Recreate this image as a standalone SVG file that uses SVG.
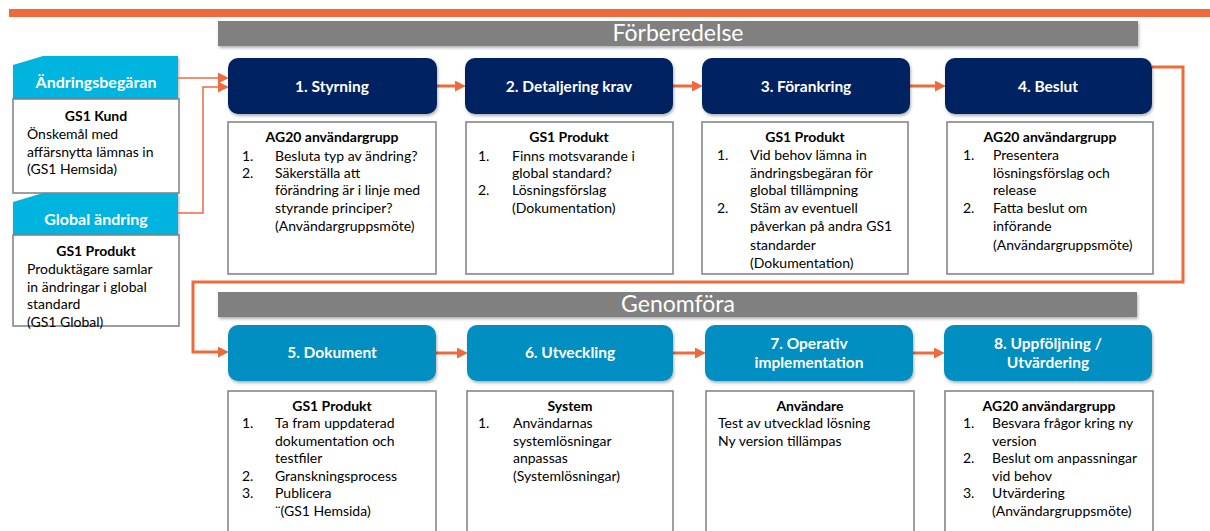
<svg xmlns="http://www.w3.org/2000/svg" width="1210" height="531" viewBox="0 0 1210 531">
<style>
.t{font-family:Lato,"Liberation Sans",sans-serif;font-size:14px;fill:#000}
.b{font-weight:bold}
.m{text-anchor:middle}
.nl{font-family:Lato,"Liberation Sans",sans-serif;font-size:15.5px;font-weight:bold;fill:#fff;text-anchor:middle}
.hl{font-family:Lato,"Liberation Sans",sans-serif;font-size:16px;font-weight:bold;fill:#fff;text-anchor:middle}
.hd{font-family:Lato,"Liberation Sans",sans-serif;font-size:23px;fill:#fff;text-anchor:middle}
.box{fill:#fff;stroke:#7f7f7f;stroke-width:1.5}
.n1{fill:#002060}
.n2{fill:#008fc0}
.cy{fill:#00b4e0}
.bar{fill:#808080}
.c{fill:none;stroke:#ee6a3c;stroke-width:3}
.ct{fill:none;stroke:#ee6a3c;stroke-width:1.5}
</style>
<defs>
<marker id="ah" markerUnits="userSpaceOnUse" markerWidth="11" markerHeight="11" refX="2" refY="5" orient="auto" viewBox="0 0 10 10">
<path d="M0,0 L10,5 L0,10 z" fill="#ee6a3c"/>
</marker>
<filter id="sh" x="-5%" y="-10%" width="110%" height="130%">
<feDropShadow dx="1" dy="2" stdDeviation="1.5" flood-color="#000" flood-opacity="0.3"/>
</filter>
</defs>
<rect x="9" y="9" width="1201" height="8" fill="#ee6a3c"/>

<g id="bar-forberedelse">
<rect class="bar" x="218" y="21" width="920" height="25" filter="url(#sh)"/>
<text class="hd" x="678" y="41">Förberedelse</text>
</g>
<g id="bar-genomfora">
<rect class="bar" x="218" y="292" width="919" height="25" filter="url(#sh)"/>
<text class="hd" x="678" y="312">Genomföra</text>
</g>

<g id="andringsbegaran">
<path class="cy" d="M13,65 L43,56 H178 V99 H13 z" filter="url(#sh)"/>
<text class="hl" x="96" y="88">Ändringsbegäran</text>
<rect class="box" x="13" y="99" width="166" height="94"/>
<text class="t b m" x="96" y="121">GS1 Kund</text>
<text class="t" x="27" y="139">Önskemål med</text>
<text class="t" x="27" y="157">affärsnytta lämnas in</text>
<text class="t" x="27" y="174">(GS1 Hemsida)</text>
</g>

<g id="global-andring">
<path class="cy" d="M13,202 L43,193 H178 V235 H13 z" filter="url(#sh)"/>
<text class="hl" x="96" y="225">Global ändring</text>
<rect class="box" x="13" y="235" width="166" height="91"/>
<text class="t b m" x="96" y="256">GS1 Produkt</text>
<text class="t" x="27" y="274">Produktägare samlar</text>
<text class="t" x="27" y="292">in ändringar i global</text>
<text class="t" x="27" y="309">standard</text>
<text class="t" x="27" y="327">(GS1 Global)</text>
</g>

<g id="connectors">
<path class="ct" d="M178,78 H220" marker-end="url(#ah)"/>
<path class="ct" d="M178,213 H203 V87 H220" marker-end="url(#ah)"/>
<path class="c" d="M437,86 H457" marker-end="url(#ah)"/>
<path class="c" d="M673,86 H694" marker-end="url(#ah)"/>
<path class="c" d="M910,86 H937" marker-end="url(#ah)"/>
<path class="c" d="M1152,67 H1183 V282 H193 V352 H220" marker-end="url(#ah)"/>
<path class="c" d="M436,353 H459" marker-end="url(#ah)"/>
<path class="c" d="M673,353 H697" marker-end="url(#ah)"/>
<path class="c" d="M913,353 H936" marker-end="url(#ah)"/>
</g>

<g id="node1">
<rect class="n1" x="228" y="58" width="209" height="56" rx="10" filter="url(#sh)"/>
<text class="nl" x="332" y="92">1. Styrning</text>
<rect class="box" x="228" y="122" width="208" height="152"/>
<text class="t b m" x="332" y="142">AG20 användargrupp</text>
<text class="t" x="242" y="161">1.</text><text class="t" x="275" y="161">Besluta typ av ändring?</text>
<text class="t" x="242" y="178">2.</text><text class="t" x="275" y="178">Säkerställa att</text>
<text class="t" x="275" y="195">förändring är i linje med</text>
<text class="t" x="275" y="213">styrande principer?</text>
<text class="t" x="275" y="231">(Användargruppsmöte)</text>
</g>

<g id="node2">
<rect class="n1" x="465" y="58" width="208" height="56" rx="10" filter="url(#sh)"/>
<text class="nl" x="569" y="92">2. Detaljering krav</text>
<rect class="box" x="466" y="122" width="207" height="152"/>
<text class="t b m" x="569" y="142">GS1 Produkt</text>
<text class="t" x="478" y="161">1.</text><text class="t" x="512" y="161">Finns motsvarande i</text>
<text class="t" x="512" y="178">global standard?</text>
<text class="t" x="478" y="195">2.</text><text class="t" x="512" y="195">Lösningsförslag</text>
<text class="t" x="512" y="213">(Dokumentation)</text>
</g>

<g id="node3">
<rect class="n1" x="702" y="58" width="208" height="56" rx="10" filter="url(#sh)"/>
<text class="nl" x="806" y="92">3. Förankring</text>
<rect class="box" x="702" y="122" width="206" height="152"/>
<text class="t b m" x="805" y="142">GS1 Produkt</text>
<text class="t" x="717" y="160">1.</text><text class="t" x="750" y="160">Vid behov lämna in</text>
<text class="t" x="750" y="178">ändringsbegäran för</text>
<text class="t" x="750" y="195">global tillämpning</text>
<text class="t" x="717" y="213">2.</text><text class="t" x="750" y="213">Stäm av eventuell</text>
<text class="t" x="750" y="231">påverkan på andra GS1</text>
<text class="t" x="750" y="250">standarder</text>
<text class="t" x="750" y="268">(Dokumentation)</text>
</g>

<g id="node4">
<rect class="n1" x="945" y="58" width="207" height="56" rx="10" filter="url(#sh)"/>
<text class="nl" x="1048" y="92">4. Beslut</text>
<rect class="box" x="947" y="122" width="206" height="152"/>
<text class="t b m" x="1050" y="142">AG20 användargrupp</text>
<text class="t" x="963" y="160">1.</text><text class="t" x="993" y="160">Presentera</text>
<text class="t" x="993" y="178">lösningsförslag och</text>
<text class="t" x="993" y="195">release</text>
<text class="t" x="963" y="213">2.</text><text class="t" x="993" y="213">Fatta beslut om</text>
<text class="t" x="993" y="231">införande</text>
<text class="t" x="993" y="250">(Användargruppsmöte)</text>
</g>

<g id="node5">
<rect class="n2" x="228" y="325" width="208" height="56" rx="10" filter="url(#sh)"/>
<text class="nl" x="332" y="358">5. Dokument</text>
<rect class="box" x="228" y="391" width="208" height="145"/>
<text class="t b m" x="332" y="411">GS1 Produkt</text>
<text class="t" x="242" y="428">1.</text><text class="t" x="275" y="428">Ta fram uppdaterad</text>
<text class="t" x="275" y="446">dokumentation och</text>
<text class="t" x="275" y="463">testfiler</text>
<text class="t" x="242" y="481">2.</text><text class="t" x="275" y="481">Granskningsprocess</text>
<text class="t" x="242" y="498">3.</text><text class="t" x="275" y="498">Publicera</text>
<text class="t" x="275" y="516">¨(GS1 Hemsida)</text>
</g>

<g id="node6">
<rect class="n2" x="467" y="325" width="206" height="56" rx="10" filter="url(#sh)"/>
<text class="nl" x="570" y="358">6. Utveckling</text>
<rect class="box" x="467" y="391" width="206" height="145"/>
<text class="t b m" x="570" y="411">System</text>
<text class="t" x="478" y="428">1.</text><text class="t" x="513" y="428">Användarnas</text>
<text class="t" x="513" y="446">systemlösningar</text>
<text class="t" x="513" y="463">anpassas</text>
<text class="t" x="513" y="481">(Systemlösningar)</text>
</g>

<g id="node7">
<rect class="n2" x="705" y="325" width="208" height="56" rx="10" filter="url(#sh)"/>
<text class="nl" x="809" y="349">7. Operativ</text>
<text class="nl" x="809" y="368">implementation</text>
<rect class="box" x="706" y="391" width="208" height="145"/>
<text class="t b m" x="810" y="411">Användare</text>
<text class="t" x="718" y="428">Test av utvecklad lösning</text>
<text class="t" x="718" y="446">Ny version tillämpas</text>
</g>

<g id="node8">
<rect class="n2" x="944" y="325" width="208" height="56" rx="10" filter="url(#sh)"/>
<text class="nl" x="1048" y="349">8. Uppföljning /</text>
<text class="nl" x="1048" y="368">Utvärdering</text>
<rect class="box" x="945" y="391" width="208" height="145"/>
<text class="t b m" x="1049" y="411">AG20 användargrupp</text>
<text class="t" x="963" y="428">1.</text><text class="t" x="992" y="428">Besvara frågor kring ny</text>
<text class="t" x="992" y="446">version</text>
<text class="t" x="963" y="463">2.</text><text class="t" x="992" y="463">Beslut om anpassningar</text>
<text class="t" x="992" y="481">vid behov</text>
<text class="t" x="963" y="498">3.</text><text class="t" x="992" y="498">Utvärdering</text>
<text class="t" x="992" y="516">(Användargruppsmöte)</text>
</g>
</svg>
